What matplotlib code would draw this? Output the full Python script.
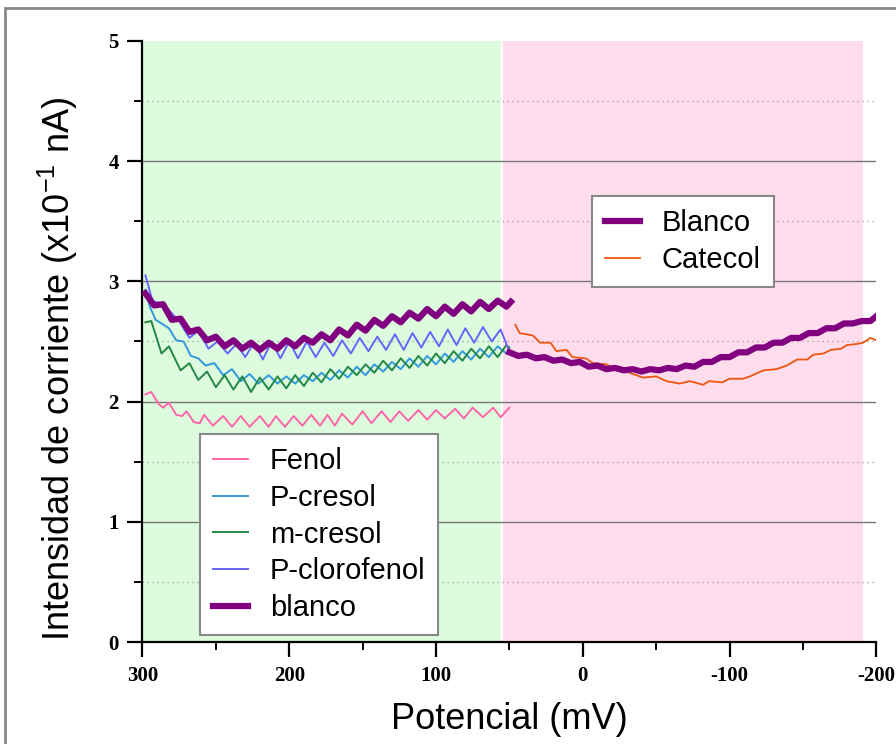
import matplotlib
matplotlib.use("Agg")
import matplotlib.pyplot as plt
from matplotlib.patches import Rectangle
from matplotlib.ticker import MultipleLocator

# ---- data (potential in mV, current in x10^-1 nA) ----
fenol_v = [298, 294, 289, 286, 282, 277, 273, 270, 265, 261,
           258, 252, 245, 239, 233, 227, 220, 214, 209, 203,
           197, 191, 185, 179, 174, 169, 164, 157, 150, 144,
           137, 131, 125, 119, 112, 106, 100, 94, 87, 81,
           75, 68, 61, 56, 50]
fenol_i = [2.06, 2.08, 1.98, 1.95, 1.99, 1.89, 1.88, 1.92, 1.83, 1.82,
           1.89, 1.80, 1.88, 1.79, 1.88, 1.79, 1.88, 1.79, 1.88, 1.79,
           1.88, 1.80, 1.89, 1.80, 1.89, 1.80, 1.90, 1.81, 1.92, 1.82,
           1.92, 1.83, 1.92, 1.84, 1.93, 1.85, 1.93, 1.86, 1.94, 1.86,
           1.95, 1.87, 1.95, 1.87, 1.95]

pcresol_v = [298, 295, 291, 287, 282, 277, 272, 267, 262, 257,
             251, 245, 239, 233, 227, 221, 214, 208, 202, 196,
             190, 184, 178, 172, 166, 160, 154, 148, 142, 136,
             130, 124, 118, 112, 106, 100, 94, 88, 82, 76,
             70, 64, 58, 52, 50]
pcresol_i = [2.93, 2.79, 2.68, 2.65, 2.61, 2.51, 2.50, 2.38, 2.36, 2.30,
             2.32, 2.22, 2.27, 2.17, 2.23, 2.15, 2.22, 2.15, 2.21, 2.15,
             2.22, 2.17, 2.24, 2.18, 2.26, 2.20, 2.29, 2.22, 2.31, 2.25,
             2.33, 2.27, 2.36, 2.29, 2.38, 2.31, 2.40, 2.33, 2.42, 2.35,
             2.44, 2.37, 2.46, 2.40, 2.42]

mcresol_v = [298, 294, 287, 282, 274, 268, 262, 256, 250, 244,
             238, 232, 226, 220, 214, 208, 202, 196, 190, 184,
             178, 172, 166, 160, 154, 148, 142, 136, 130, 124,
             118, 112, 106, 100, 94, 88, 82, 76, 70, 64,
             58, 52, 50]
mcresol_i = [2.66, 2.67, 2.40, 2.46, 2.26, 2.32, 2.18, 2.25, 2.12, 2.22,
             2.10, 2.21, 2.08, 2.20, 2.10, 2.21, 2.11, 2.22, 2.13, 2.24,
             2.16, 2.27, 2.19, 2.29, 2.22, 2.31, 2.24, 2.34, 2.26, 2.36,
             2.28, 2.38, 2.30, 2.40, 2.32, 2.42, 2.34, 2.44, 2.36, 2.46,
             2.37, 2.47, 2.45]

pcloro_v = [298, 293, 287, 282, 275, 268, 262, 255, 249, 242,
            236, 230, 224, 218, 212, 206, 200, 194, 188, 182,
            176, 170, 164, 158, 152, 146, 140, 134, 128, 122,
            116, 110, 104, 98, 92, 86, 80, 74, 68, 62,
            56, 50]
pcloro_i = [3.05, 2.83, 2.82, 2.76, 2.67, 2.53, 2.59, 2.44, 2.50, 2.40,
            2.48, 2.37, 2.49, 2.35, 2.50, 2.36, 2.50, 2.36, 2.50, 2.37,
            2.49, 2.38, 2.51, 2.40, 2.53, 2.42, 2.54, 2.43, 2.56, 2.43,
            2.57, 2.45, 2.58, 2.46, 2.60, 2.47, 2.61, 2.49, 2.62, 2.50,
            2.60, 2.42]

blanco1_v = [298, 292, 286, 280, 274, 268, 262, 256, 250, 244,
             238, 232, 226, 220, 214, 208, 202, 196, 190, 184,
             178, 172, 166, 160, 154, 148, 142, 136, 130, 124,
             118, 112, 106, 100, 94, 88, 82, 76, 70, 64,
             58, 52, 49]
blanco1_i = [2.90, 2.80, 2.81, 2.68, 2.69, 2.58, 2.60, 2.51, 2.54, 2.46,
             2.51, 2.44, 2.49, 2.43, 2.49, 2.44, 2.51, 2.46, 2.53, 2.49,
             2.56, 2.51, 2.60, 2.55, 2.64, 2.59, 2.68, 2.63, 2.71, 2.66,
             2.74, 2.69, 2.77, 2.71, 2.79, 2.73, 2.81, 2.75, 2.83, 2.77,
             2.84, 2.79, 2.83]

blanco2_v = [50, 44, 38, 32, 26, 20, 14, 8, 2, -4,
             -10, -16, -22, -28, -34, -40, -46, -52, -58, -64,
             -70, -76, -82, -88, -94, -100, -106, -112, -118, -124,
             -130, -136, -142, -148, -154, -160, -166, -172, -178, -184,
             -190, -196, -200]
blanco2_i = [2.41, 2.38, 2.39, 2.36, 2.37, 2.34, 2.35, 2.32, 2.33, 2.29,
             2.30, 2.27, 2.28, 2.26, 2.27, 2.25, 2.27, 2.26, 2.28, 2.27,
             2.30, 2.29, 2.33, 2.33, 2.37, 2.37, 2.41, 2.41, 2.45, 2.45,
             2.49, 2.49, 2.53, 2.53, 2.57, 2.57, 2.61, 2.61, 2.65, 2.65,
             2.67, 2.67, 2.71]

catecol_v = [46, 43, 34, 29, 22, 18, 11, 7, -2, -7,
             -16, -21, -28, -34, -41, -50, -57, -66, -73, -82,
             -86, -95, -100, -109, -114, -123, -132, -139, -146, -153,
             -157, -164, -169, -176, -180, -187, -191, -196, -200]
catecol_i = [2.64, 2.57, 2.55, 2.49, 2.49, 2.42, 2.43, 2.37, 2.36, 2.32,
             2.31, 2.28, 2.26, 2.23, 2.20, 2.21, 2.17, 2.15, 2.17, 2.14,
             2.17, 2.16, 2.19, 2.19, 2.21, 2.26, 2.27, 2.30, 2.35, 2.35,
             2.39, 2.40, 2.43, 2.44, 2.47, 2.48, 2.49, 2.53, 2.51]

green_zone = (300, 55.5)
pink_zone = (54.5, -191)

fig = plt.figure(figsize=(8.96, 7.44), dpi=100)
ax = fig.add_axes([0.159, 0.137, 0.819, 0.808])

ax.axvspan(green_zone[0], green_zone[1], color="#ddfcdd", lw=0, zorder=0)
ax.axvspan(pink_zone[0], pink_zone[1], color="#ffdded", lw=0, zorder=0)

for yy in [1, 2, 3, 4]:
    ax.axhline(yy, color="#777777", lw=1.0, zorder=1)
for yy in [0.5, 1.5, 2.5, 3.5, 4.5]:
    ax.axhline(yy, color="#999999", lw=0.9, ls=(0, (1, 3)), zorder=1)

l_fen, = ax.plot(fenol_v, fenol_i, color="#ff66aa", lw=1.4, zorder=3, label="Fenol")
l_pcr, = ax.plot(pcresol_v, pcresol_i, color="#3399dd", lw=1.4, zorder=3, label="P-cresol")
l_mcr, = ax.plot(mcresol_v, mcresol_i, color="#228844", lw=1.4, zorder=3, label="m-cresol")
l_pcl, = ax.plot(pcloro_v, pcloro_i, color="#6666ff", lw=1.4, zorder=3, label="P-clorofenol")
l_bl1, = ax.plot(blanco1_v, blanco1_i, color="#800080", lw=4.5, zorder=4, label="blanco")
l_bl2, = ax.plot(blanco2_v, blanco2_i, color="#800080", lw=4.5, zorder=4, label="Blanco")
l_cat, = ax.plot(catecol_v, catecol_i, color="#ee5511", lw=1.3, zorder=3, label="Catecol")

ax.set_xlim(300, -200)
ax.set_ylim(0, 5)
ax.xaxis.set_major_locator(MultipleLocator(100))
ax.xaxis.set_minor_locator(MultipleLocator(50))
ax.yaxis.set_major_locator(MultipleLocator(1))
ax.yaxis.set_minor_locator(MultipleLocator(0.5))
ax.set_xticks([300, 200, 100, 0, -100, -200])
ax.set_xticklabels(["300", "200", "100", "0", "-100", "-200"])

for s in ["top", "right"]:
    ax.spines[s].set_visible(False)
for s in ["left", "bottom"]:
    ax.spines[s].set_linewidth(1.6)
ax.tick_params(which="major", direction="out", length=11, width=1.6, pad=6,
               labelsize=15)
ax.tick_params(which="minor", direction="out", length=6, width=1.4)
for lab in ax.get_xticklabels() + ax.get_yticklabels():
    lab.set_family("Liberation Serif")
    lab.set_weight("bold")

ax.set_xlabel("Potencial (mV)", fontsize=26, family="Liberation Sans", labelpad=12)
ax.set_ylabel(r"Intensidad de corriente (x10$\mathregular{^{-1}}$ nA)", fontsize=26,
              family="Liberation Sans")
ax.yaxis.set_label_coords(-0.085, 0.455)

leg_kw = dict(loc="upper left", borderaxespad=0, fancybox=False, framealpha=1,
              edgecolor="#888888", handlelength=1.2, handletextpad=0.75,
              labelspacing=0.3, borderpad=0.45,
              prop={"family": "Liberation Sans", "size": 21})
leg1 = ax.legend(handles=[l_fen, l_pcr, l_mcr, l_pcl, l_bl1],
                 bbox_to_anchor=(0.078, 0.346), **leg_kw)
leg1.get_frame().set_linewidth(1.5)
ax.add_artist(leg1)
leg2 = ax.legend(handles=[l_bl2, l_cat], bbox_to_anchor=(0.612, 0.742), **leg_kw)
leg2.get_frame().set_linewidth(1.5)

# grey frame around the whole picture
fig.add_artist(Rectangle((0.006, -0.1), 1.2, 1.089, transform=fig.transFigure,
                         fill=False, edgecolor="#888888", lw=2))

fig.savefig("out.png", dpi=100)
